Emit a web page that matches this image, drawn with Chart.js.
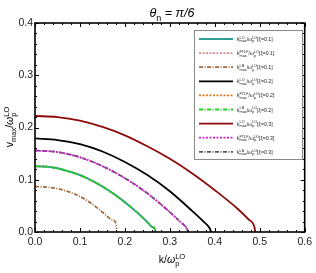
<!DOCTYPE html>
<html><head><meta charset="utf-8">
<script src="https://cdn.jsdelivr.net/npm/chart.js@4/dist/chart.umd.min.js"></script>
<style>html,body{margin:0;padding:0;background:#fff}#wrap{width:316px;height:273px;position:relative}</style>
</head><body><div id="wrap"><canvas id="c" width="316" height="273"></canvas></div>
<script>
const xTickLabels = ['0.0','0.1','0.2','0.3','0.4','0.5','0.6'];
const yTickLabels = ['0.0','0.1','0.2','0.3','0.4'];
const seriesNames = ['LO','FTLF','LB','LO','FTLF','LB','LO','FTLF','LB'];
const xiValues = ['0.1','0.1','0.1','0.2','0.2','0.2','0.3','0.3','0.3'];

// xi = 0.1
const kLO01 = [0,0.025,0.05,0.075,0.1,0.125,0.15,0.175,0.2,0.225,0.25,0.26,0.267,0.268];
const vLO01 = [0.126,0.125,0.122,0.116,0.109,0.099,0.087,0.073,0.057,0.039,0.019,0.010,0.006,0.0];
const kFT01 = [0,0.025,0.05,0.075,0.1,0.125,0.15,0.175,0.2,0.225,0.25,0.26,0.267,0.268];
const vFT01 = [0.126,0.125,0.122,0.116,0.109,0.099,0.087,0.073,0.057,0.039,0.019,0.010,0.006,0.0];
const kLB01 = [0,0.025,0.05,0.075,0.1,0.125,0.15,0.17,0.18,0.182];
const vLB01 = [0.087,0.086,0.083,0.077,0.068,0.055,0.038,0.024,0.017,0.006];
// xi = 0.2
const kLO02 = [0,0.05,0.1,0.15,0.2,0.25,0.3,0.35,0.375,0.388,0.392];
const vLO02 = [0.179,0.176,0.168,0.154,0.134,0.109,0.078,0.040,0.020,0.008,0.0];
const kFT02 = [0,0.025,0.05,0.075,0.1,0.125,0.15,0.175,0.2,0.225,0.25,0.26,0.267,0.268];
const vFT02 = [0.126,0.125,0.122,0.116,0.109,0.099,0.087,0.073,0.057,0.039,0.019,0.010,0.006,0.0];
const kLB02 = [0,0.025,0.05,0.075,0.1,0.125,0.15,0.175,0.2,0.225,0.25,0.26,0.267,0.268];
const vLB02 = [0.126,0.125,0.122,0.116,0.109,0.099,0.087,0.073,0.057,0.039,0.019,0.010,0.006,0.0];
// xi = 0.3
const kLO03 = [0,0.05,0.1,0.15,0.2,0.25,0.3,0.35,0.4,0.45,0.475,0.488,0.49];
const vLO03 = [0.222,0.220,0.213,0.201,0.185,0.164,0.140,0.112,0.080,0.045,0.024,0.010,0.0];
const kFT03 = [0,0.05,0.1,0.15,0.2,0.25,0.3,0.325,0.337,0.341];
const vFT03 = [0.156,0.153,0.143,0.126,0.103,0.074,0.038,0.018,0.008,0.0];
const kLB03 = [0,0.05,0.1,0.15,0.2,0.25,0.3,0.325,0.337,0.341];
const vLB03 = [0.156,0.153,0.143,0.126,0.103,0.074,0.038,0.018,0.008,0.0];

const kArrs = [kLO01,kFT01,kLB01,kLO02,kFT02,kLB02,kLO03,kFT03,kLB03];
const vArrs = [vLO01,vFT01,vLB01,vLO02,vFT02,vLB02,vLO03,vFT03,vLB03];
const colors = ['#2f9e9a','#e0888c','#a0683c','#000000','#e07418','#22d022','#8e0a0a','#d020d0','#555555'];
const dashes = [[],[2,1.5],[4,1.5,1,1.5],[],[2,1.5],[4,1.5,1,1.5],[],[2,1.5],[4,1.5,1,1.5]];
const orders = [3,4,5,2,4,0,1,1,2];

const FONT = '"Liberation Sans", Arial, sans-serif';

function drawRich(ctx, parts, x, y, size, align) {
  // parts: {t, sub, sup, it}
  const measure = () => {
    let w = 0;
    for (const p of parts) {
      if (p.t !== undefined) { ctx.font = (p.it?'italic ':'') + size + 'px ' + FONT; w += ctx.measureText(p.t).width; }
      else { ctx.font = (size*0.72) + 'px ' + FONT;
        w += Math.max(p.sub?ctx.measureText(p.sub).width:0, p.sup?ctx.measureText(p.sup).width:0); }
    }
    return w;
  };
  const w = measure();
  let cx = align === 'left' ? x : x - w/2;
  ctx.textBaseline = 'alphabetic'; ctx.textAlign = 'left';
  for (const p of parts) {
    if (p.t !== undefined) { ctx.font = (p.it?'italic ':'') + size + 'px ' + FONT; ctx.fillText(p.t, cx, y); cx += ctx.measureText(p.t).width; }
    else {
      ctx.font = (size*0.72) + 'px ' + FONT;
      let mw = 0;
      if (p.sup) { ctx.fillText(p.sup, cx, y - size*0.42); mw = Math.max(mw, ctx.measureText(p.sup).width); }
      if (p.sub) { ctx.fillText(p.sub, cx, y + size*0.28); mw = Math.max(mw, ctx.measureText(p.sub).width); }
      cx += mw;
    }
  }
}

const decor = {
  id: 'decor',
  afterDatasetsDraw(chart) {
    const ctx = chart.ctx, a = chart.chartArea, xs = chart.scales.x, ys = chart.scales.y;
    ctx.save();
    ctx.strokeStyle = '#000'; ctx.lineWidth = 1;
    // inward ticks on four sides
    for (let i = 0; i <= 30; i++) {
      const v = i * 0.02; const px = Math.round(xs.getPixelForValue(v)) + 0.5;
      const len = (i % 5 === 0) ? 4 : 2;
      ctx.beginPath(); ctx.moveTo(px, a.bottom); ctx.lineTo(px, a.bottom - len);
      ctx.moveTo(px, a.top); ctx.lineTo(px, a.top + len); ctx.stroke();
    }
    for (let i = 0; i <= 20; i++) {
      const v = i * 0.02; const py = Math.round(ys.getPixelForValue(v)) + 0.5;
      const len = (i % 5 === 0) ? 4 : 2;
      ctx.beginPath(); ctx.moveTo(a.left, py); ctx.lineTo(a.left + len, py);
      ctx.moveTo(a.right, py); ctx.lineTo(a.right - len, py); ctx.stroke();
    }
    ctx.lineWidth = 1.6;
    ctx.strokeRect(a.left, a.top, a.right - a.left, a.bottom - a.top);
    // legend
    const lx = 194, ly = 30, lw = 108, lh = 129;
    ctx.fillStyle = '#fff'; ctx.fillRect(lx, ly, lw, lh);
    ctx.strokeStyle = '#8a8a8a'; ctx.lineWidth = 1; ctx.strokeRect(lx + 0.5, ly + 0.5, lw, lh);
    for (let i = 0; i < 9; i++) {
      const yy = 39 + i * 14.1;
      ctx.strokeStyle = colors[i]; ctx.lineWidth = 1.8; ctx.setLineDash(dashes[i]);
      ctx.beginPath(); ctx.moveTo(199, yy); ctx.lineTo(233, yy); ctx.stroke();
      ctx.setLineDash([]);
      ctx.fillStyle = '#222';
      drawRich(ctx, [{t:'k'},{sup:seriesNames[i],sub:'max'},{t:'/ω'},{sup:'LO',sub:'p'},{t:'[ξ='+xiValues[i]+']'}], 237, yy + 2, 5.2, 'left');
    }
    // title
    ctx.fillStyle = '#000';
    drawRich(ctx, [{t:'θ',it:true},{sub:'n'},{t:' = π/6',it:true}], 172, 17, 12.5, 'center');
    // x label
    drawRich(ctx, [{t:'k/'},{t:'ω',it:true},{sup:'LO',sub:'p'}], 172, 263, 10.5, 'center');
    // y label
    ctx.translate(13, 127); ctx.rotate(-Math.PI/2);
    drawRich(ctx, [{t:'v'},{sub:'max'},{t:'/'},{t:'ω',it:true},{sup:'LO',sub:'p'}], 0, 0, 10.5, 'center');
    ctx.restore();
  }
};

const datasets = kArrs.map((ks, i) => ({
  label: seriesNames[i] + ' ' + xiValues[i],
  data: ks.map((k, j) => ({x: k, y: vArrs[i][j]})),
  borderColor: colors[i], borderWidth: 1.8, borderDash: dashes[i],
  pointRadius: 0, fill: false, cubicInterpolationMode: 'monotone', order: orders[i]
}));

new Chart(document.getElementById('c'), {
  type: 'line',
  data: { datasets },
  plugins: [decor],
  options: {
    responsive: false, animation: false, devicePixelRatio: 1,
    layout: { padding: { left: 0, top: 23, right: 8, bottom: 0 } },
    plugins: { legend: { display: false }, title: { display: false }, tooltip: { enabled: false } },
    scales: {
      x: { type: 'linear', min: 0, max: 0.6,
        afterFit: s => { s.height = 41; },
        grid: { display: false, drawTicks: false }, border: { display: false },
        ticks: { stepSize: 0.1, padding: 4, color: '#222', font: { family: FONT, size: 10.5 },
          callback: (v, i) => xTickLabels[Math.round(v * 10)] } },
      y: { type: 'linear', min: 0, max: 0.4,
        afterFit: s => { s.width = 35; },
        grid: { display: false, drawTicks: false }, border: { display: false },
        ticks: { stepSize: 0.1, padding: 2, color: '#222', font: { family: FONT, size: 10.5 },
          callback: (v, i) => yTickLabels[Math.round(v * 10)] } }
    }
  }
});
</script></body></html>
